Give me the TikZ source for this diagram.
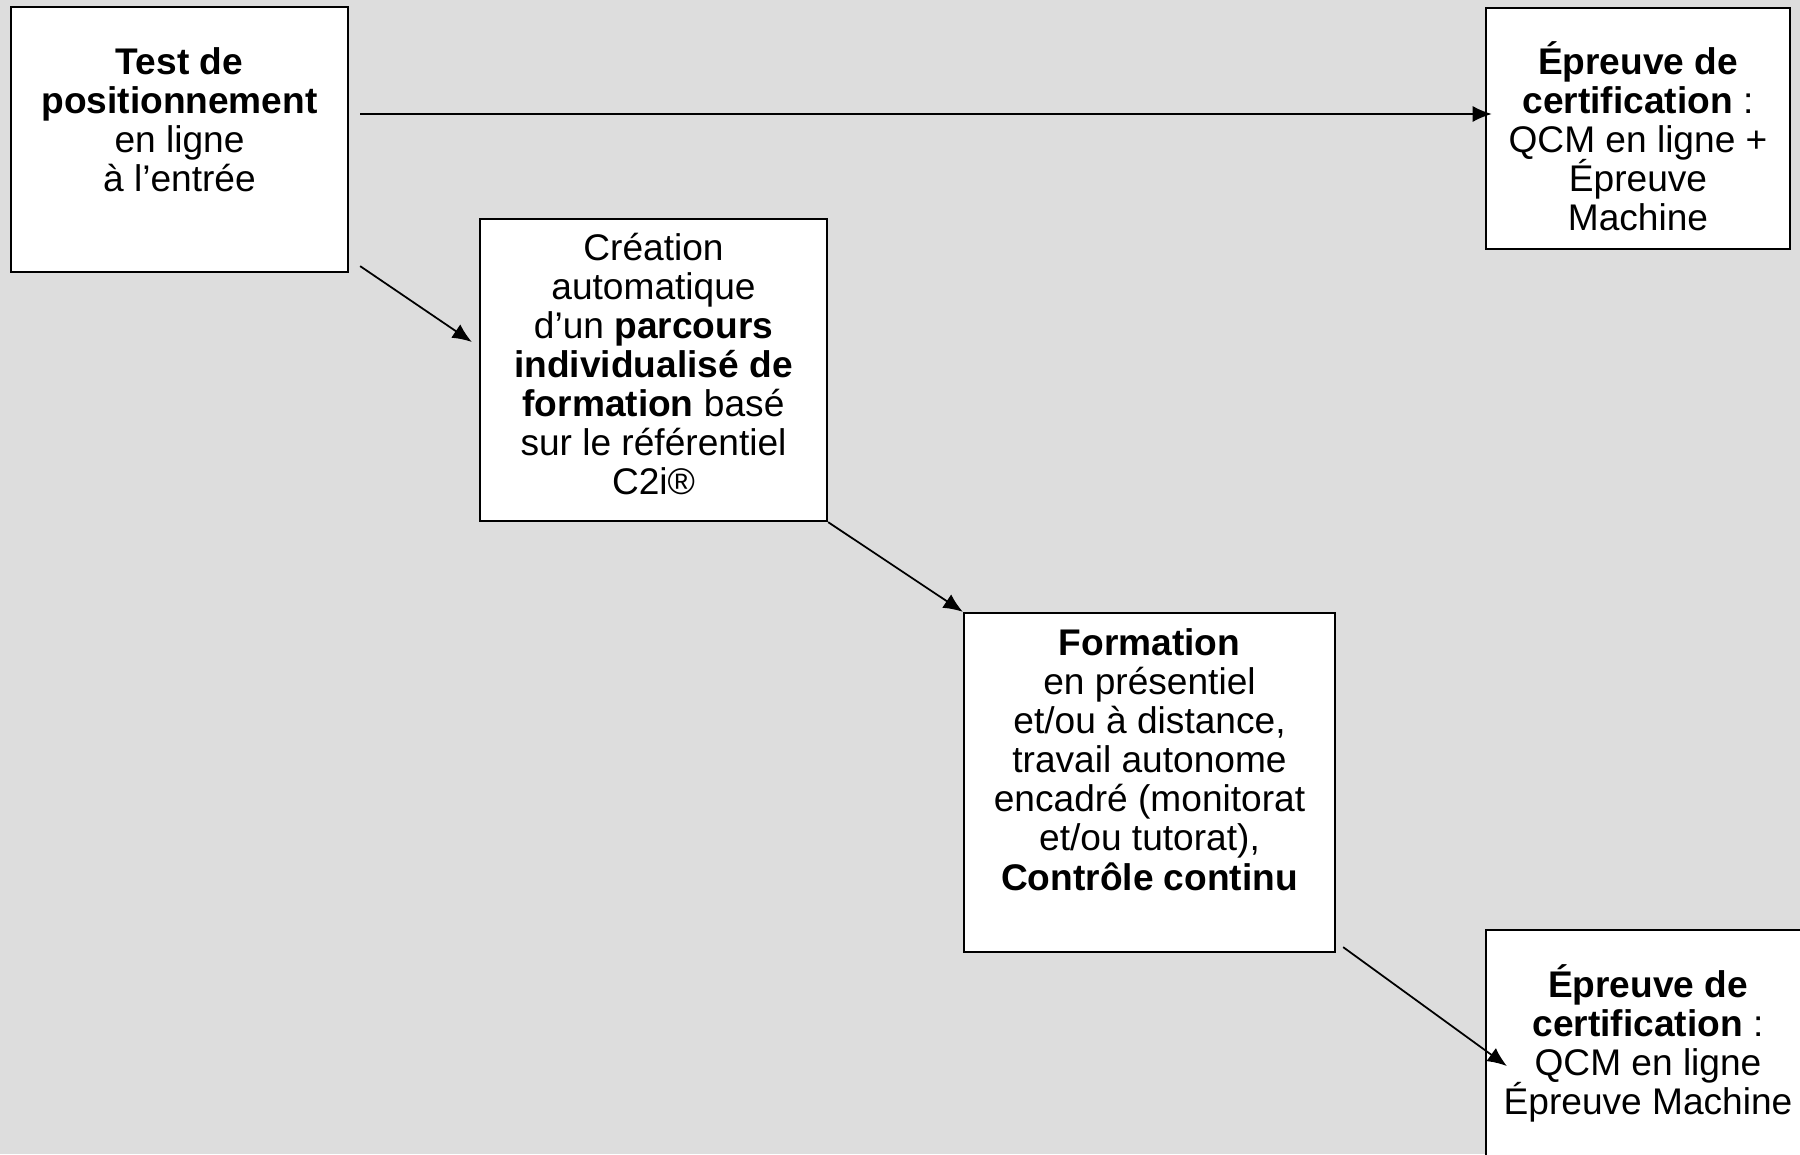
\documentclass[tikz,border=0pt]{standalone}
\usepackage{fontspec}
\setmainfont{Liberation Sans}
\usepackage{tikz}
\usetikzlibrary{arrows.meta}
\definecolor{bggray}{RGB}{221,221,221}
\setlength{\lineskiplimit}{-20pt}
\setlength{\normallineskiplimit}{-20pt}

\begin{document}
\begin{tikzpicture}[x=0.01cm,y=-0.01cm]
\tikzset{stage/.style = {shape=rectangle,draw,fill=white,line width=0.6pt,inner sep=0pt,font=\fontsize{10.55}{11.1}\selectfont}}
\tikzset{edge/.style = {->,> = {Latex[length=5.5pt,width=4.6pt]},line width=0.5pt}}
% background
\fill[bggray] (0,0) rectangle (1800,1154);
\useasboundingbox (0,0) rectangle (1800,1154);
% stages
\node[stage] (test) at (179.5,139.5) {\parbox[c][2.65cm][t]{3.37cm}{\centering\vspace*{0.41cm}%
  \textbf{Test de}\\\textbf{positionnement}\\en ligne\\à l’entrée}};
\node[stage] (certifhaut) at (1638,128.5) {\parbox[c][2.41cm][t]{3.04cm}{\centering\vspace*{0.335cm}%
  \textbf{Épreuve de}\\\textbf{certification} :\\QCM en ligne +\\Épreuve\\Machine}};
\node[stage] (parcours) at (653.5,370) {\parbox[c][3.02cm][t]{3.47cm}{\centering\vspace*{0.14cm}%
  Création\\automatique\\d’un \textbf{parcours}\\\textbf{individualisé de}\\\textbf{formation} basé\\sur le référentiel\\C2i®}};
\node[stage] (formation) at (1149.5,782.5) {\parbox[c][3.39cm][t]{3.71cm}{\centering\vspace*{0.16cm}%
  \textbf{Formation}\\en présentiel\\et/ou à distance,\\travail autonome\\encadré (monitorat\\et/ou tutorat),\\\textbf{Contrôle continu}}};
\node[stage] (certifbas) at (1648,1046) {\parbox[c][2.32cm][t]{3.24cm}{\centering\vspace*{0.35cm}%
  \textbf{Épreuve de}\\\textbf{certification} :\\QCM en ligne\\Épreuve Machine}};
% edges
\draw[edge] ([xshift=0.11cm,yshift=0.255cm]test.east) -- ([xshift=0.07cm,yshift=0.145cm]certifhaut.west);
\draw[edge] ([xshift=0.11cm,yshift=0.07cm]test.south east) -- ([xshift=-0.07cm,yshift=0.28cm]parcours.west);
\draw[edge] (parcours.south east) -- (formation.north west);
\draw[edge] ([xshift=0.07cm,yshift=0.06cm]formation.south east) -- ([xshift=0.22cm,yshift=-0.2cm]certifbas.west);
\end{tikzpicture}
\end{document}
